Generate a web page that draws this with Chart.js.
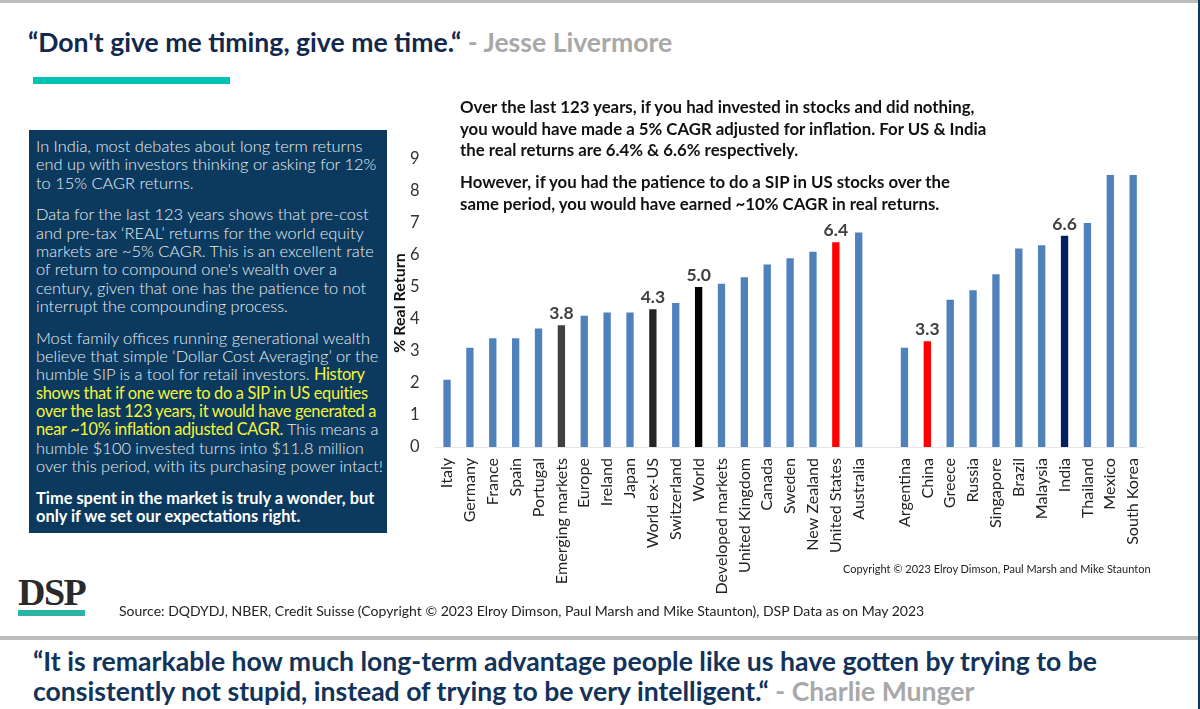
<!DOCTYPE html>
<html>
<head>
<meta charset="utf-8">
<script src="https://cdn.jsdelivr.net/npm/chart.js@4"></script>
<style>
html,body{margin:0;padding:0;background:#fff;}
body{width:1200px;height:709px;overflow:hidden;position:relative;font-family:Lato,sans-serif;}
.abs{position:absolute;}
.t{white-space:nowrap;}
#panel{left:29px;top:130px;width:358px;height:403px;background:#0c3a5e;color:#e8eef3;font-size:16.4px;line-height:18.35px;box-sizing:border-box;padding:7px 0 0 7px;font-weight:300;}
#panel p{margin:0 0 13.3px 0;white-space:nowrap;}
#panel .y{color:#f4f53a;font-weight:400;letter-spacing:-0.32px;}
#panel b{color:#fff;font-weight:700;}
#chartBox{left:380px;top:133px;width:800px;height:477px;}
.note{font-weight:700;color:#111;font-size:16.8px;line-height:21.6px;}
</style>
</head>
<body>
<div class="abs" style="left:0;top:0;width:1200px;height:3px;background:#bdbdbd"></div>
<div class="abs" style="left:1198px;top:0;width:2px;height:709px;background:#0c3a5e"></div>
<div class="abs t" style="left:28px;top:26px;font-size:26.6px;font-weight:700;color:#12294d;">“Don't give me timing, give me time.“ <span style="color:#a8a8a8">- Jesse Livermore</span></div>
<div class="abs" style="left:33px;top:77px;width:197px;height:7px;background:#00c4b3"></div>

<div id="panel" class="abs">
<p>In India, most debates about long term returns<br>end up with investors thinking or asking for 12%<br>to 15% CAGR returns.</p>
<p>Data for the last 123 years shows that pre-cost<br>and pre-tax ‘REAL’ returns for the world equity<br>markets are ~5% CAGR. This is an excellent rate<br>of return to compound one's wealth over a<br>century, given that one has the patience to not<br>interrupt the compounding process.</p>
<p>Most family offices running generational wealth<br>believe that simple ‘Dollar Cost Averaging’ or the<br>humble SIP is a tool for retail investors. <span class="y">History<br>shows that if one were to do a SIP in US equities<br>over the last 123 years, it would have generated a<br>near ~10% inflation adjusted CAGR.</span> This means a<br>humble $100 invested turns into $11.8 million<br>over this period, with its purchasing power intact!</p>
<p><b>Time spent in the market is truly a wonder, but<br>only if we set our expectations right.</b></p>
</div>

<div id="chartBox" class="abs"><canvas id="c"></canvas></div>

<div class="abs t note" style="left:460px;top:96px;">Over the last 123 years, if you had invested in stocks and did nothing,<br>you would have made a 5% CAGR adjusted for inflation. For US &amp; India<br>the real returns are 6.4% &amp; 6.6% respectively.</div>
<div class="abs t note" style="left:460px;top:171px;">However, if you had the patience to do a SIP in US stocks over the<br>same period, you would have earned ~10% CAGR in real returns.</div>

<div class="abs t" style="left:843px;top:562px;font-size:11px;color:#222;">Copyright © 2023 Elroy Dimson, Paul Marsh and Mike Staunton</div>

<div class="abs t" style="left:18px;top:573px;font-family:'Liberation Serif',serif;font-weight:700;font-size:38px;line-height:38px;color:#2a2a2a;letter-spacing:-1.5px;">DSP</div>
<div class="abs" style="left:18px;top:610px;width:67px;height:6px;background:#2bb5a5"></div>
<div class="abs t" style="left:119px;top:602px;font-size:14px;color:#222;">Source: DQDYDJ, NBER, Credit Suisse (Copyright © 2023 Elroy Dimson, Paul Marsh and Mike Staunton), DSP Data as on May 2023</div>

<div class="abs" style="left:0;top:636px;width:1198px;height:4px;background:#bdbdbd"></div>
<div class="abs t" style="left:33px;top:646px;font-size:26.6px;line-height:30px;font-weight:700;color:#12335a;">“It is remarkable how much long-term advantage people like us have gotten by trying to be<br>consistently not stupid, instead of trying to be very intelligent.“ <span style="color:#a8a8a8">- Charlie Munger</span></div>

<script>
const countries = ["Italy","Germany","France","Spain","Portugal","Emerging markets","Europe","Ireland","Japan","World ex-US","Switzerland","World","Developed markets","United Kingdom","Canada","Sweden","New Zealand","United States","Australia","","Argentina","China","Greece","Russia","Singapore","Brazil","Malaysia","India","Thailand","Mexico","South Korea"];
const realReturn = [2.1,3.1,3.4,3.4,3.7,3.8,4.1,4.2,4.2,4.3,4.5,5.0,5.1,5.3,5.7,5.9,6.1,6.4,6.7,null,3.1,3.3,4.6,4.9,5.4,6.2,6.3,6.6,7.0,8.5,8.5];
const highlighted = {"Emerging markets":"#404040","World ex-US":"#262626","World":"#000000","United States":"#ff0000","China":"#ff0000","India":"#002060"};
const labelled = ["Emerging markets","World ex-US","World","United States","China","India"];

const barColors = countries.map(c => highlighted[c] || "#4f81bd");

// value labels only on the highlighted bars
const barLabels = {
  id:"barLabels",
  afterDatasetsDraw(chart){
    const ctx = chart.ctx;
    const meta = chart.getDatasetMeta(0);
    ctx.save();
    ctx.font = "700 17.5px Lato";
    ctx.fillStyle = "#404040";
    ctx.textAlign = "center";
    ctx.textBaseline = "bottom";
    countries.forEach((c,i) => {
      if(labelled.indexOf(c) < 0) return;
      ctx.fillText(realReturn[i].toFixed(1), meta.data[i].x, meta.data[i].y - 3);
    });
    ctx.restore();
  }
};

new Chart(document.getElementById("c"),{
  type:"bar",
  data:{
    labels:countries,
    datasets:[{data:realReturn,backgroundColor:barColors,barPercentage:0.32,categoryPercentage:1}]
  },
  options:{
    responsive:true,
    maintainAspectRatio:false,
    animation:false,
    layout:{padding:{top:18,right:35.4,left:10,bottom:0}},
    plugins:{legend:{display:false},tooltip:{enabled:false}},
    scales:{
      x:{
        grid:{display:false,drawTicks:false},
        border:{color:"#e6e6e6"},
        afterFit(s){ s.height = 163; },
        ticks:{autoSkip:false,minRotation:90,maxRotation:90,padding:11,color:"#222",font:{family:"Lato",size:16.1}}
      },
      y:{
        min:0,max:9,
        grid:{display:false,drawTicks:false},
        border:{display:false},
        afterFit(s){ s.width = 45.6; },
        title:{display:true,text:"% Real Return",color:"#111",font:{family:"Lato",size:16,weight:"700"},padding:0},
        ticks:{stepSize:1,padding:16,color:"#333",font:{family:"Lato",size:16.5}}
      }
    }
  },
  plugins:[barLabels]
});
</script>
</body>
</html>
